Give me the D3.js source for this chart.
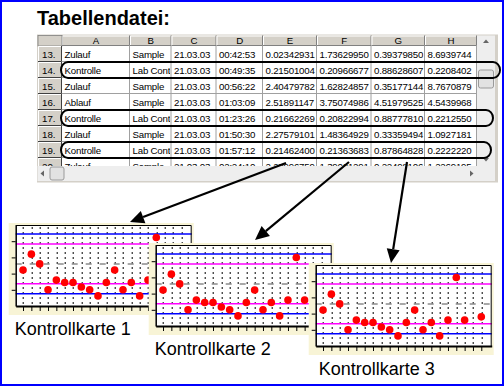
<!DOCTYPE html>
<html><head><meta charset="utf-8">
<script src="https://cdn.jsdelivr.net/npm/d3@7/dist/d3.min.js"></script>
<style>body{margin:0;background:#fff}svg{display:block}</style>
</head><body>
<svg id="c" width="504" height="386"></svg>
<script>
// ---------------- data ----------------
const titleText = "Tabellendatei:";
const columns = ["A","B","C","D","E","F","G","H"];
const rowNumbers = ["13.","14.","15.","16.","17.","18.","19.","20."];
const colA = ["Zulauf","Kontrolle","Zulauf","Ablauf","Kontrolle","Zulauf","Kontrolle","Zulauf"];
const colB = ["Sample","Lab Control","Sample","Sample","Lab Control","Sample","Lab Control","Sample"];
const colC = ["21.03.03","21.03.03","21.03.03","21.03.03","21.03.03","21.03.03","21.03.03","21.03.03"];
const colD = ["00:42:53","00:49:35","00:56:22","01:03:09","01:23:26","01:50:30","01:57:12","02:24:10"];
const colE = ["0.02342931","0.21501004","2.40479782","2.51891147","0.21662269","2.27579101","0.21462400","2.28996759"];
const colF = ["1.73629950","0.20966677","1.62824857","3.75074986","0.20822994","1.48364929","0.21363683","1.39021291"];
const colG = ["0.39379850","0.88628607","0.35177144","4.51979525","0.88777810","0.33359494","0.87864828","0.22498106"];
const colH = ["8.6939744","0.2208402","8.7670879","4.5439968","0.2212550","1.0927181","0.2222220","1.2269195"];
const controlRows = ["14.","17.","19."];

const chartTitles = ["Kontrollkarte 1","Kontrollkarte 2","Kontrollkarte 3"];
const sampleIndex = [1,2,3,4,5,6,7,8,9,10,11,12,13,14,15,16,17,18,19,20];
const controlValues = [0.2139,0.2178,0.2154,0.2090,0.2114,0.2108,0.2108,0.2097,0.2090,0.2075,
                       0.2108,0.2139,0.2090,0.2108,0.2075,0.2114,0.2219,0.2114,null,0.2122];
const centerValue = 0.2154;
const warnLimits = [0.2105, 0.2203];
const actionLimits = [0.2080, 0.2228];
const yDomain = [0.205, 0.225];
const yTicks = [0.209, 0.213, 0.217, 0.221];

// ---------------- layout ----------------
const FONT = "'Liberation Sans', Arial, sans-serif";
const svg = d3.select("#c");
const defs = svg.append("defs");
svg.append("rect").attr("width",504).attr("height",386).attr("fill","#fff");

svg.append("text").attr("x",37).attr("y",25)
  .attr("font-family",FONT).attr("font-weight","bold").attr("font-size",20)
  .text(titleText);

// ---- table ----
const colEdges = [38,62,130,171.5,216.5,263,317,371.5,425,477];
const headTop = 35.5, rowTop = 46, rowH = 16, gridBottom = 166;
const CELLFONT = 9.7, CELLSP = -0.2;
const tbl = svg.append("g");
tbl.append("rect").attr("x",37).attr("y",34.5).attr("width",461).attr("height",148).attr("fill","#d4d0c8");

defs.append("clipPath").attr("id","gclip").append("rect")
  .attr("x",37).attr("y",34).attr("width",441).attr("height",gridBottom-34);
const grid = tbl.append("g").attr("clip-path","url(#gclip)");

const yRow = d3.scaleBand().domain(rowNumbers).range([rowTop, rowTop+rowH*rowNumbers.length]);
const xCol = d3.scaleOrdinal().domain(columns).range(colEdges.slice(1,-1));
const colW = c => colEdges[columns.indexOf(c)+2] - xCol(c);

grid.append("rect").attr("x",colEdges[1]).attr("y",rowTop)
  .attr("width",colEdges[9]-colEdges[1]).attr("height",rowH*rowNumbers.length).attr("fill","#fff");

columns.forEach(c=>{
  const x0 = xCol(c), w = colW(c);
  grid.append("rect").attr("x",x0).attr("y",headTop).attr("width",w).attr("height",rowTop-headTop).attr("fill","#d4d0c8");
  grid.append("path").attr("d",`M${x0+0.5},${rowTop-0.5}V${headTop+0.5}H${x0+w-0.5}`).attr("stroke","#fff").attr("fill","none");
  grid.append("path").attr("d",`M${x0+w-0.5},${headTop}V${rowTop-0.5}H${x0}`).attr("stroke","#808080").attr("fill","none");
  grid.append("text").attr("x",x0+w/2).attr("y",headTop+8.8).attr("text-anchor","middle")
    .attr("font-family",FONT).attr("font-size",CELLFONT).text(c);
});
grid.append("rect").attr("x",colEdges[0]).attr("y",headTop).attr("width",colEdges[1]-colEdges[0]).attr("height",rowTop-headTop).attr("fill","#d4d0c8").attr("stroke","#808080").attr("stroke-width",0.8);

rowNumbers.forEach(r=>{
  const y0 = yRow(r);
  grid.append("rect").attr("x",colEdges[0]).attr("y",y0).attr("width",colEdges[1]-colEdges[0]).attr("height",rowH).attr("fill","#d4d0c8");
  grid.append("path").attr("d",`M${colEdges[0]+0.5},${y0+rowH-0.5}V${y0+0.5}H${colEdges[1]-0.5}`).attr("stroke","#fff").attr("fill","none");
  grid.append("path").attr("d",`M${colEdges[1]-0.5},${y0}V${y0+rowH-0.5}H${colEdges[0]}`).attr("stroke","#404040").attr("fill","none");
  grid.append("text").attr("x",colEdges[0]+4).attr("y",y0+rowH/2+3.6)
    .attr("font-family",FONT).attr("font-size",CELLFONT).text(r);
});

rowNumbers.forEach(r=>{
  grid.append("line").attr("x1",colEdges[1]).attr("x2",colEdges[9]).attr("y1",yRow(r)+rowH-0.5).attr("y2",yRow(r)+rowH-0.5).attr("stroke","#a0a0a0");
});
columns.forEach(c=>{
  const xe = xCol(c)+colW(c)-0.5;
  grid.append("line").attr("x1",xe).attr("x2",xe).attr("y1",rowTop).attr("y2",gridBottom).attr("stroke","#a0a0a0");
});

const colData = [colA,colB,colC,colD,colE,colF,colG,colH];
columns.forEach((c,j)=>{
  defs.append("clipPath").attr("id","cc"+c).append("rect")
    .attr("x",xCol(c)).attr("y",rowTop).attr("width",colW(c)-1.5).attr("height",gridBottom-rowTop);
  grid.append("g").attr("clip-path",`url(#cc${c})`)
    .selectAll("text").data(rowNumbers.map((r,i)=>({r,t:colData[j][i]}))).join("text")
    .attr("x",xCol(c)+2.5).attr("y",d=>yRow(d.r)+rowH/2+3.6)
    .attr("font-family",FONT).attr("font-size",CELLFONT).attr("letter-spacing",CELLSP).text(d=>d.t);
});

const sb = tbl.append("g");
sb.append("rect").attr("x",477).attr("y",35.5).attr("width",18).attr("height",gridBottom-35.5).attr("fill","#eeeeee");
sb.append("rect").attr("x",37.5).attr("y",gridBottom).attr("width",457.5).attr("height",15).attr("fill","#eeeeee");
sb.append("rect").attr("x",478.5).attr("y",70).attr("width",15).attr("height",18).attr("rx",2).attr("fill","#e2e2e2").attr("stroke","#9a9a9a");
sb.append("rect").attr("x",50).attr("y",gridBottom+1).attr("width",14).attr("height",13).attr("rx",2).attr("fill","#e2e2e2").attr("stroke","#9a9a9a");
sb.append("path").attr("d","M483,43L486,39.5L489,43Z").attr("fill","#666");
sb.append("path").attr("d","M483,158L486,161.5L489,158Z").attr("fill","#666");
sb.append("path").attr("d",`M44,${gridBottom+4.5}L40.5,${gridBottom+7.5}L44,${gridBottom+10.5}Z`).attr("fill","#666");
sb.append("path").attr("d",`M470,${gridBottom+4.5}L473.5,${gridBottom+7.5}L470,${gridBottom+10.5}Z`).attr("fill","#666");

const ovalRight = [500, 493, 491];
controlRows.forEach((r,i)=>{
  tbl.append("rect").attr("x",61).attr("y",yRow(r)).attr("width",ovalRight[i]-61).attr("height",rowH)
    .attr("rx",7).attr("ry",8).attr("fill","none").attr("stroke","#000").attr("stroke-width",2);
});

// ---- control charts ----
const W = 176, H = 81;
const x = d3.scaleLinear().domain([0.12, 21.25]).range([0, W]);
const y = d3.scaleLinear().domain(yDomain).range([H, 0]);
const chartOrigins = [[15.7,225],[155.7,245],[315.7,265]];
const labelShift = [-1,-1,3];
const points = sampleIndex.map((s,i)=>({s, v: controlValues[i]})).filter(d=>d.v!=null);

chartTitles.forEach((t,k)=>{
  const g = svg.append("g").attr("transform",`translate(${chartOrigins[k][0]},${chartOrigins[k][1]})`);
  g.append("rect").attr("x",-7).attr("y",-2).attr("width",W+9).attr("height",H+11).attr("fill","#f8f4d6");
  g.append("rect").attr("x",0).attr("y",0).attr("width",W).attr("height",H).attr("fill","#fff");
  g.selectAll("line.dots").data(sampleIndex).join("line").attr("class","dots")
    .attr("x1",d=>Math.round(x(d))+0.5).attr("x2",d=>Math.round(x(d))+0.5)
    .attr("y1",2).attr("y2",H).attr("stroke","#000").attr("stroke-dasharray","2,3");
  const limLines = [
    {v:centerValue, c:"#8c8c8c", dash:"6,8"},
    {v:warnLimits[0], c:"#ff00ff"}, {v:warnLimits[1], c:"#ff00ff"},
    {v:actionLimits[0], c:"#0000ff"}, {v:actionLimits[1], c:"#0000ff"}];
  g.selectAll("line.lim").data(limLines).join("line").attr("class","lim")
    .attr("x1",0).attr("x2",W).attr("y1",d=>y(d.v)).attr("y2",d=>y(d.v))
    .attr("stroke",d=>d.c).attr("stroke-width",1.5).attr("stroke-dasharray",d=>d.dash||null);
  g.append("path").attr("d",`M0,0.5H${W-0.5}V${H}`).attr("stroke","#000").attr("fill","none");
  const ax = g.append("g").attr("transform",`translate(0,${H})`)
    .call(d3.axisBottom(x).tickValues(sampleIndex).tickSize(5).tickSizeOuter(0).tickFormat(""));
  ax.select(".domain").attr("stroke-width",2);
  const ay = g.append("g")
    .call(d3.axisLeft(y).tickValues(yTicks).tickSize(4).tickSizeOuter(0).tickFormat(""));
  ay.select(".domain").attr("stroke-width",1.5);
  g.selectAll("circle").data(points).join("circle")
    .attr("cx",d=>x(d.s)).attr("cy",d=>y(d.v)).attr("r",3.8).attr("fill","#ff0000");
  g.append("text").attr("x",labelShift[k]).attr("y",H+28.5)
    .attr("font-family",FONT).attr("font-size",18).text(t);
});

// ---- arrows ----
const arrows = [[286,163,130,222],[349,162,255,240],[407,162,391,263]];
arrows.forEach(([x1,y1,x2,y2])=>{
  const dx=x2-x1, dy=y2-y1, L=Math.hypot(dx,dy), ux=dx/L, uy=dy/L;
  const hl=14, hw=6.5;
  const bx=x2-ux*hl, by=y2-uy*hl;
  svg.append("line").attr("x1",x1).attr("y1",y1).attr("x2",bx).attr("y2",by)
    .attr("stroke","#000").attr("stroke-width",2.2);
  svg.append("path").attr("d",`M${x2},${y2}L${bx-uy*hw},${by+ux*hw}L${bx+uy*hw},${by-ux*hw}Z`).attr("fill","#000");
});

svg.append("rect").attr("x",1).attr("y",1).attr("width",502).attr("height",384)
  .attr("fill","none").attr("stroke","#0000ff").attr("stroke-width",2);
</script>
</body></html>
